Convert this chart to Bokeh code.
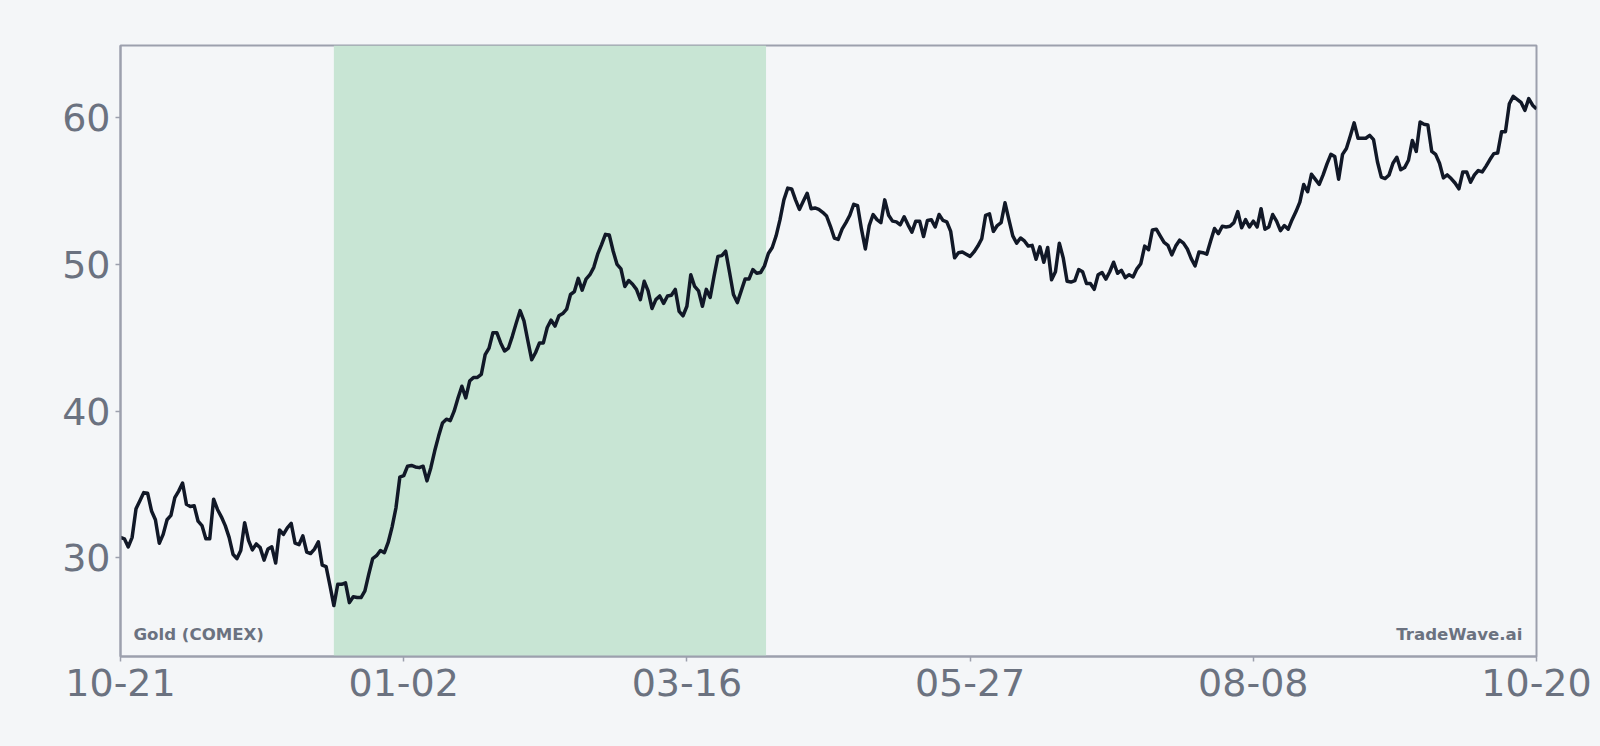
from bokeh.plotting import figure
from bokeh.models import Range1d, FixedTicker, BoxAnnotation, Label
from bokeh.embed import file_html
from bokeh.resources import INLINE

# ---- data -------------------------------------------------------------
tick_labels = ["10-21", "01-02", "03-16", "05-27", "08-08", "10-20"]
tick_days = [0, 73, 146, 219, 292, 365]
y_ticks = [30, 40, 50, 60]

series_name = "Gold (COMEX)"
source_name = "TradeWave.ai"

# highlighted rally window (day index)
highlight_start = 55
highlight_end = 166.4

# daily closes
close_q4 = [
    31.4, 31.3, 30.75, 31.4, 33.35, 33.9, 34.45, 34.4, 33.2, 32.6,
    31.0, 31.6, 32.6, 32.9, 34.1, 34.55, 35.1, 33.65, 33.5, 33.55,
    32.5, 32.2, 31.3, 31.3, 34.0, 33.3, 32.8, 32.2, 31.4, 30.25,
    29.95, 30.5, 32.4, 31.2, 30.55, 30.95, 30.7, 29.85, 30.6, 30.75,
    29.65, 31.9, 31.6, 32.05, 32.35, 31.0, 30.9, 31.5,
    30.4, 30.3, 30.6, 31.1, 29.5, 29.4, 28.1, 26.75, 28.2, 28.2,
    28.3, 26.95, 27.35, 27.3, 27.3, 27.75, 28.9, 29.95, 30.15, 30.5,
    30.35, 31.05, 32.1, 33.4, 35.5, 35.6, 36.25, 36.3, 36.2, 36.15,
    36.25, 35.25, 36.15, 37.3, 38.3, 39.2, 39.45, 39.35, 40.0, 40.9,
    41.7, 40.9, 42.05, 42.3, 42.3,
]
close_q1 = [
    42.5, 43.85, 44.3, 45.35, 45.35, 44.65, 44.1, 44.3, 45.1, 46.0,
    46.85, 46.15, 44.8, 43.5, 44.0, 44.65, 44.65, 45.7, 46.2, 45.8,
    46.5, 46.65, 46.95, 47.95, 48.15, 49.05, 48.25, 49.0, 49.3, 49.8,
    50.7, 51.35, 52.05, 52.0, 50.9, 50.0, 49.7, 48.5, 48.9, 48.65,
    48.3, 47.6, 48.85, 48.2, 47.0, 47.6, 47.85,
    47.35, 47.85, 47.9, 48.3, 46.8, 46.5, 47.15, 49.3, 48.5, 48.2,
    47.15, 48.3, 47.75, 49.2, 50.55, 50.6, 50.9, 49.45, 47.95, 47.4,
    48.2, 49.0, 49.0, 49.65, 49.4, 49.45, 49.9, 50.75, 51.15, 51.95,
    53.05, 54.4, 55.2, 55.15, 54.4, 53.75, 54.3, 54.85, 53.8, 53.85,
    53.75, 53.55, 53.3, 52.6,
]
close_q2 = [
    51.8, 51.7, 52.4, 52.85, 53.35, 54.1, 54.0, 52.4, 51.05, 52.65,
    53.4, 53.05, 52.85, 54.4, 53.35, 52.95, 52.9, 52.7, 53.25, 52.7,
    52.2, 52.95, 52.95, 51.9, 53.0, 53.05, 52.55, 53.4, 53.0, 52.9,
    52.25, 50.45, 50.8, 50.85, 50.7, 50.55, 50.85, 51.25, 51.75, 53.35,
    53.45, 52.25, 52.65, 52.85, 54.2, 53.05, 51.95, 51.45, 51.8,
    51.6, 51.25, 51.3, 50.35, 51.2, 50.15, 51.15, 48.95, 49.5, 51.45,
    50.45, 48.85, 48.8, 48.9, 49.65, 49.5, 48.7, 48.7, 48.3, 49.3,
    49.45, 49.0, 49.5, 50.15, 49.4, 49.6, 49.1, 49.3, 49.15, 49.7,
    50.05, 51.25, 51.0, 52.35, 52.4, 51.95, 51.5, 51.3, 50.65, 51.25,
    51.65, 51.45, 51.05, 50.4,
]
close_q3 = [
    49.9, 50.85, 50.8, 50.7, 51.6, 52.45, 52.1, 52.6, 52.55, 52.6,
    52.85, 53.6, 52.5, 53.05, 52.55, 52.95, 52.55, 53.8, 52.4, 52.55,
    53.4, 52.95, 52.3, 52.65, 52.4, 53.05, 53.6, 54.25, 55.45, 54.95,
    56.15, 55.8, 55.45, 56.1, 56.85, 57.5, 57.35, 55.8, 57.5, 57.9,
    58.75, 59.65, 58.6, 58.6, 58.6, 58.8,
    58.5, 57.0, 55.95, 55.85, 56.1, 56.9, 57.3, 56.45, 56.6, 57.1,
    58.45, 57.7, 59.7, 59.55, 59.5, 57.7, 57.5, 56.9, 55.9, 56.1,
    55.85, 55.55, 55.15, 56.3, 56.3, 55.6, 56.1, 56.4, 56.3, 56.7,
    57.15, 57.55, 57.6, 59.05, 59.05, 60.95, 61.45, 61.25, 61.05, 60.5,
    61.3, 60.85, 60.6,
]

close = close_q4 + close_q1 + close_q2 + close_q3
days = list(range(len(close)))

# ---- styling ----------------------------------------------------------
BG = "#f4f6f8"
FRAME = "#9ca0ad"
TEXT = "#6b7280"
LINE = "#111827"
BAND = "#c8e5d4"
FONT = "DejaVu Sans"

lo, hi = min(close), max(close)
pad = 0.1 * (hi - lo)

p = figure(
    width=1600, height=746,
    output_backend="svg", toolbar_location=None,
    x_range=Range1d(days[0], days[-1]),
    y_range=Range1d(lo - pad, hi + pad),
    min_border_left=120, min_border_right=64,
    min_border_top=45, min_border_bottom=90,
    background_fill_color=BG, border_fill_color=BG,
    outline_line_color=FRAME, outline_line_width=2,
)

p.xgrid.visible = False
p.ygrid.visible = False

band = BoxAnnotation(left=highlight_start, right=highlight_end,
                     fill_color=BAND, fill_alpha=1.0, line_alpha=0,
                     level="underlay")
p.add_layout(band)

p.line(days, close, line_color=LINE, line_width=3.5, line_join="round")

for ax in (p.xaxis[0], p.yaxis[0]):
    ax.axis_line_color = FRAME
    ax.axis_line_width = 2
    ax.major_tick_line_color = FRAME
    ax.major_tick_line_width = 1.5
    ax.major_tick_out = 5
    ax.major_tick_in = 0
    ax.minor_tick_line_color = None
    ax.major_label_text_color = TEXT
    ax.major_label_text_font = FONT
    ax.major_label_text_font_size = "38px"

p.xaxis.ticker = FixedTicker(ticks=tick_days)
p.xaxis.major_label_overrides = {d: lab for d, lab in zip(tick_days, tick_labels)}
p.xaxis.major_label_standoff = 7
p.yaxis.ticker = FixedTicker(ticks=y_ticks)
p.yaxis.major_label_standoff = 5

p.add_layout(Label(x=days[0], y=lo - pad, x_offset=13, y_offset=22,
                   text=series_name, text_font=FONT, text_font_size="16.6px",
                   text_font_style="bold", text_color=TEXT,
                   text_align="left", text_baseline="alphabetic"))
p.add_layout(Label(x=days[-1], y=lo - pad, x_offset=-14, y_offset=22,
                   text=source_name, text_font=FONT, text_font_size="16.6px",
                   text_font_style="bold", text_color=TEXT,
                   text_align="right", text_baseline="alphabetic"))

html = file_html(p, INLINE)
style = "<style>html,body{background:%s;margin:0;padding:0;overflow:hidden;}</style></head>" % BG
html = html.replace("</head>", style, 1)
open("out.html", "w").write(html)
